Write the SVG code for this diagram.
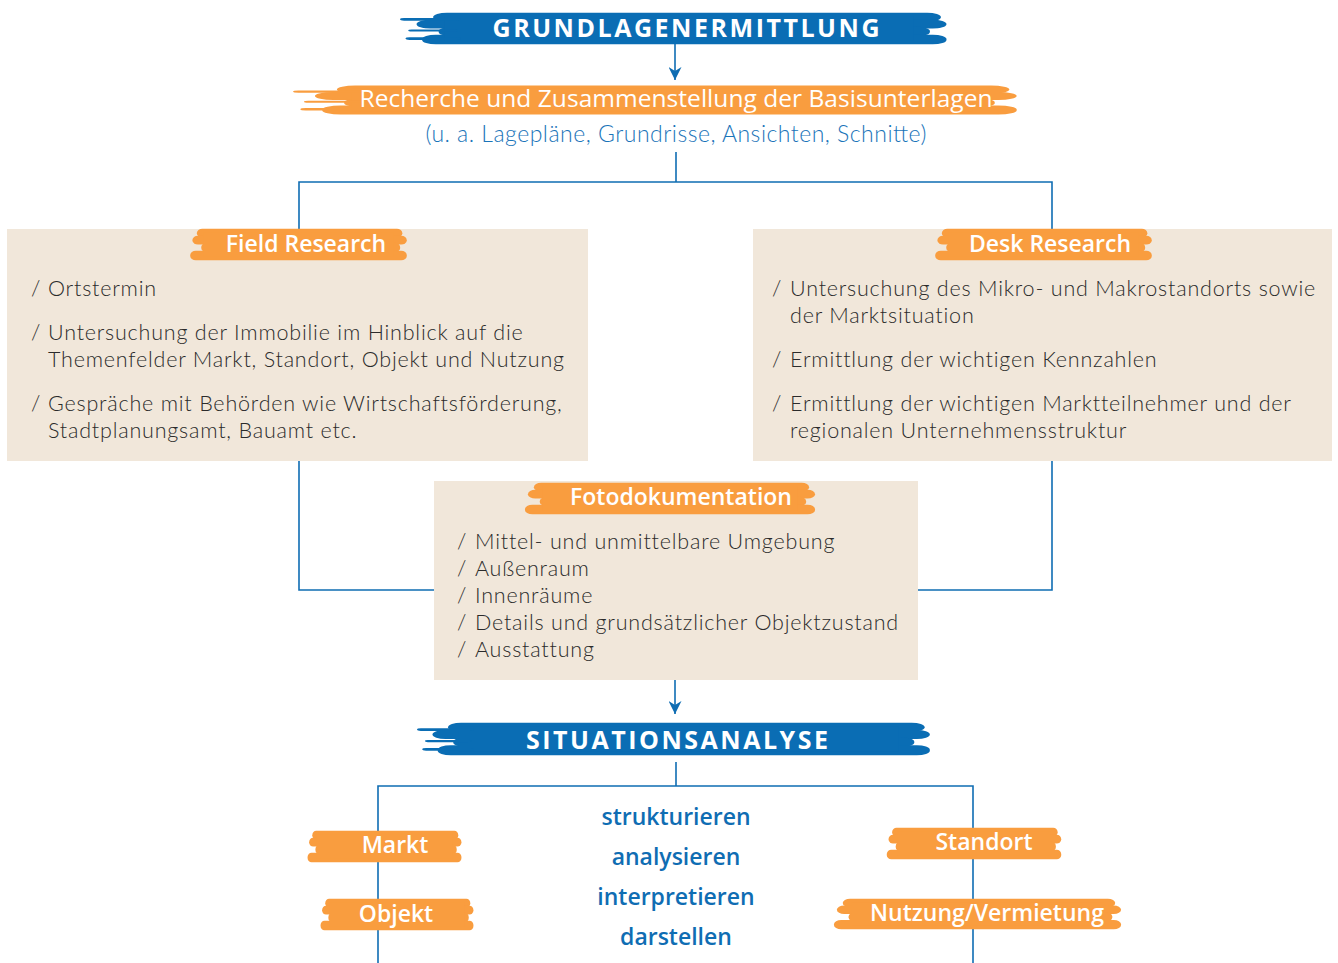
<svg xmlns="http://www.w3.org/2000/svg" width="1338" height="963" viewBox="0 0 1338 963">
<style>
.conn{fill:none;stroke:#0f6db3;stroke-width:1.6}
.box{fill:#f1e7da}
.hb{font-family:"Open Sans","Liberation Sans",sans-serif;font-weight:700;fill:#fff;letter-spacing:2px;text-anchor:middle}
.ol{font-family:"Open Sans","Liberation Sans",sans-serif;font-weight:600;fill:#fff;text-anchor:middle;font-size:23px}
.body{font-family:Lato,"Liberation Sans",sans-serif;font-weight:300;fill:#2b2b2b;font-size:21.5px;letter-spacing:0.8px}
.sub{font-family:Lato,"Liberation Sans",sans-serif;font-weight:300;fill:#1a74b9;font-size:23px;text-anchor:middle}
.verb{font-family:"Open Sans","Liberation Sans",sans-serif;font-weight:600;fill:#0f6db3;font-size:23px;text-anchor:middle}
</style>
<defs>
<symbol id="brush" viewBox="0 0 200 40" preserveAspectRatio="none">
<rect x="8" y="2" width="186" height="10" rx="5"/>
<rect x="4" y="10" width="194" height="10" rx="5"/>
<rect x="12" y="18" width="180" height="11" rx="5"/>
<rect x="2" y="27" width="196" height="11" rx="5"/>
<rect x="14" y="6" width="172" height="28"/>
</symbol>
<symbol id="brushB" viewBox="0 0 200 40" preserveAspectRatio="none">
<rect x="12" y="2" width="184" height="10" rx="5"/>
<rect x="6" y="10" width="192" height="10" rx="5"/>
<rect x="14" y="18" width="178" height="11" rx="5"/>
<rect x="8" y="27" width="190" height="11" rx="5"/>
<rect x="16" y="6" width="170" height="28"/>
<rect x="0" y="8" width="22" height="3" rx="1.5"/>
<rect x="3" y="21" width="18" height="2.5" rx="1.2"/>
<rect x="2" y="30" width="20" height="3" rx="1.5"/>
</symbol>
<marker id="arr" viewBox="0 0 10 10" refX="10" refY="5" markerWidth="13" markerHeight="13" orient="auto" markerUnits="userSpaceOnUse">
<path d="M0,0 L10,5 L0,10 L3,5 Z" fill="#0f6db3"/>
</marker>
</defs>

<g id="connectors">
<line class="conn" x1="675" y1="44" x2="675" y2="80" marker-end="url(#arr)"/>
<polyline class="conn" points="676,152 676,182"/>
<polyline class="conn" points="299,229 299,182 1052,182 1052,229"/>
<polyline class="conn" points="299,461 299,590 434,590"/>
<polyline class="conn" points="1052,461 1052,590 918,590"/>
<line class="conn" x1="675" y1="680" x2="675" y2="714" marker-end="url(#arr)"/>
<polyline class="conn" points="676,762 676,786"/>
<polyline class="conn" points="378,963 378,786 973,786 973,963"/>
</g>

<g id="grundlagenermittlung">
<use href="#brushB" x="400" y="11" width="552" height="35" fill="#0a6db4"/>
<text class="hb" x="687" y="37" font-size="25" textLength="389">GRUNDLAGENERMITTLUNG</text>
</g>

<g id="recherche">
<use href="#brushB" x="293" y="84" width="731" height="32" fill="#f99d3f"/>
<text class="ol" x="676" y="107" style="font-size:24.5px;font-weight:400" textLength="633">Recherche und Zusammenstellung der Basisunterlagen</text>
<text class="sub" x="676" y="142" textLength="501">(u. a. Lagepläne, Grundrisse, Ansichten, Schnitte)</text>
</g>

<g id="field-research">
<rect class="box" x="7" y="229" width="581" height="232"/>
<use href="#brush" x="188" y="227" width="221" height="35" fill="#f99d3f"/>
<text class="ol" x="306" y="252">Field Research</text>
<g class="body">
<text x="31" y="296">/</text><text x="48" y="296">Ortstermin</text>
<text x="31" y="340">/</text><text x="48" y="340">Untersuchung der Immobilie im Hinblick auf die</text>
<text x="48" y="367">Themenfelder Markt, Standort, Objekt und Nutzung</text>
<text x="31" y="411">/</text><text x="48" y="411">Gespräche mit Behörden wie Wirtschaftsförderung,</text>
<text x="48" y="438">Stadtplanungsamt, Bauamt etc.</text>
</g>
</g>

<g id="desk-research">
<rect class="box" x="753" y="229" width="579" height="232"/>
<use href="#brush" x="933" y="227" width="221" height="35" fill="#f99d3f"/>
<text class="ol" x="1050" y="252">Desk Research</text>
<g class="body">
<text x="772" y="296">/</text><text x="790" y="296">Untersuchung des Mikro- und Makrostandorts sowie</text>
<text x="790" y="323">der Marktsituation</text>
<text x="772" y="367">/</text><text x="790" y="367">Ermittlung der wichtigen Kennzahlen</text>
<text x="772" y="411">/</text><text x="790" y="411">Ermittlung der wichtigen Marktteilnehmer und der</text>
<text x="790" y="438">regionalen Unternehmensstruktur</text>
</g>
</g>

<g id="fotodokumentation">
<rect class="box" x="434" y="481" width="484" height="199"/>
<use href="#brush" x="522" y="481" width="296" height="35" fill="#f99d3f"/>
<text class="ol" x="681" y="505">Fotodokumentation</text>
<g class="body">
<text x="457" y="549">/</text><text x="475" y="549">Mittel- und unmittelbare Umgebung</text>
<text x="457" y="576">/</text><text x="475" y="576">Außenraum</text>
<text x="457" y="603">/</text><text x="475" y="603">Innenräume</text>
<text x="457" y="630">/</text><text x="475" y="630">Details und grundsätzlicher Objektzustand</text>
<text x="457" y="657">/</text><text x="475" y="657">Ausstattung</text>
</g>
</g>

<g id="situationsanalyse">
<use href="#brushB" x="417" y="721" width="518" height="36" fill="#0a6db4"/>
<text class="hb" x="678" y="749" font-size="25" textLength="304">SITUATIONSANALYSE</text>
</g>

<g id="verbs">
<text class="verb" x="676" y="825">strukturieren</text>
<text class="verb" x="676" y="865">analysieren</text>
<text class="verb" x="676" y="905">interpretieren</text>
<text class="verb" x="676" y="945">darstellen</text>
</g>

<g id="markt">
<use href="#brush" x="306" y="829" width="157" height="35" fill="#f99d3f"/>
<text class="ol" x="395" y="853">Markt</text>
</g>
<g id="objekt">
<use href="#brush" x="319" y="897" width="156" height="35" fill="#f99d3f"/>
<text class="ol" x="396" y="922">Objekt</text>
</g>
<g id="standort">
<use href="#brush" x="885" y="826" width="178" height="35" fill="#f99d3f"/>
<text class="ol" x="984" y="850">Standort</text>
</g>
<g id="nutzung">
<use href="#brush" x="831" y="897" width="293" height="34" fill="#f99d3f"/>
<text class="ol" x="987" y="921">Nutzung/Vermietung</text>
</g>
</svg>
